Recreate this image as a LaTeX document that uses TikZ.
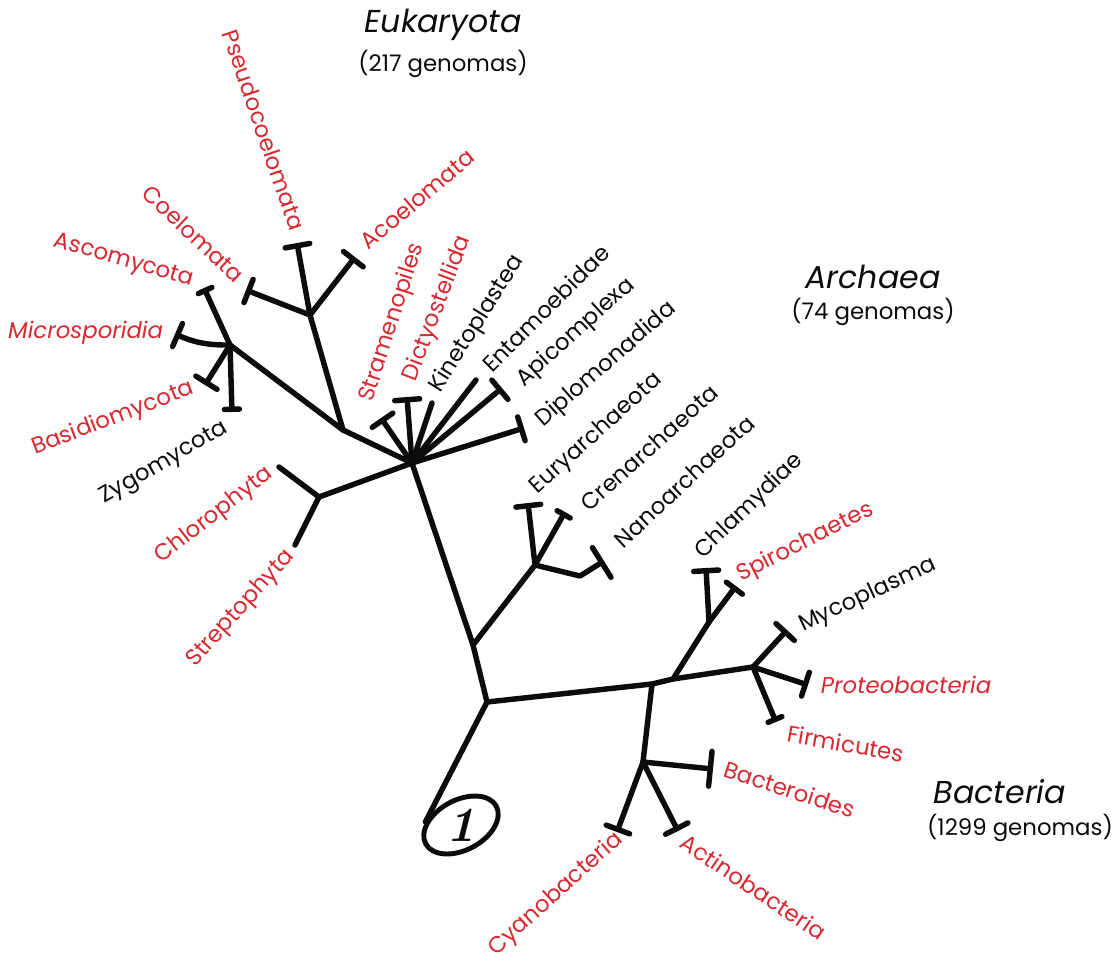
\documentclass[tikz,border=0pt]{standalone}
\usepackage{fontspec}
\setsansfont{Poppins}
\usetikzlibrary{arrows.meta, positioning, shapes.geometric}
\definecolor{TaxonRed}{RGB}{216,40,48}
\definecolor{InkBlack}{RGB}{12,12,12}

\begin{document}
\begin{tikzpicture}[
    x=0.02cm, y=-0.02cm,
    font=\sffamily,
    branch/.style={line width=3.1pt, InkBlack, line cap=round, line join=round},
    capped/.style={branch, -{Bar[width=#1, line width=3.1pt, round]}},
    capped/.default=5mm,
    taxon/.style={font=\sffamily\fontsize{13}{15}\selectfont, text=InkBlack, inner sep=1.5pt},
    redtaxon/.style={taxon, text=TaxonRed},
    realm/.style={font=\sffamily\itshape\fontsize{18}{21}\selectfont, text=InkBlack, inner sep=1pt},
    genomes/.style={font=\sffamily\fontsize{13}{15}\selectfont, text=InkBlack, inner sep=1pt},
]
\useasboundingbox (0,0) rectangle (1112,964);

% --- nodos internos ---
\coordinate (rootsplit) at (487,702);
\coordinate (archsplit) at (473,645);
\coordinate (euk) at (412,463);
\coordinate (arch) at (535,565);
\coordinate (archbend) at (580,576);
\coordinate (plants) at (319,497);
\coordinate (opis) at (343,430);
\coordinate (animals) at (310,315);
\coordinate (fungi) at (230,345);
\coordinate (bsplit) at (652,684);
\coordinate (bsplitup) at (673,679);
\coordinate (proteo) at (753,667);
\coordinate (spiro) at (709,622);
\coordinate (bacter) at (643,762);

% --- puntas de hojas ---
\coordinate (tPseudo) at (297,243);
\coordinate (tAcoel) at (355,257);
\coordinate (tCoel) at (246,290);
\coordinate (tAsco) at (204,288);
\coordinate (tMicro) at (175,334);
\coordinate (tBasid) at (205,385);
\coordinate (tZygo) at (232,412);
\coordinate (tChloro) at (279,467);
\coordinate (tStrep) at (295,545);
\coordinate (tStram) at (381,418);
\coordinate (tDicty) at (407,397);
\coordinate (tKinet) at (432,403);
\coordinate (tEntam) at (476,380);
\coordinate (tApico) at (502,388);
\coordinate (tDiplo) at (524,428);
\coordinate (tEury) at (528,503);
\coordinate (tCren) at (565,512);
\coordinate (tNano) at (604,561);
\coordinate (tChlam) at (706,568);
\coordinate (tSpiro) at (736,586);
\coordinate (tMyco) at (787,630);
\coordinate (tProteo) at (808,685);
\coordinate (tFirmi) at (776,722);
\coordinate (tBacte) at (713,769);
\coordinate (tCyano) at (617,832);
\coordinate (tActino) at (678,831);

% --- raiz ---
\node[draw=InkBlack, line width=2.8pt, ellipse, rotate=28, minimum width=1.6cm,
      minimum height=1cm, inner sep=0pt] (root) at (461,825) {};
\node[font=\rmfamily\bfseries\itshape\fontsize{28}{28}\selectfont, text=InkBlack] (one) at (root.center) {1};

% --- ramas ---
\draw[branch] (root.north west) -- (rootsplit) -- (archsplit) -- (euk);
\draw[branch] (archsplit) -- (arch);
\draw[branch] (euk) -- (plants);
\draw[branch] (euk) -- (opis) -- (fungi);
\draw[branch] (opis) -- (animals);
\draw[branch] (rootsplit) -- (bsplit) -- (bsplitup) -- (proteo);
\draw[branch] (bsplit) -- (bacter);
\draw[branch] (bsplitup) -- (spiro);

\draw[capped] (animals) -- (tPseudo);
\draw[capped] (animals) -- (tAcoel);
\draw[capped] (animals) -- (tCoel);
\draw[capped=3mm] (fungi) -- (tAsco);
\draw[capped] (fungi) to[bend left=12] (tMicro);
\draw[capped] (fungi) -- (tBasid);
\draw[capped=3mm] (fungi) -- (tZygo);
\draw[branch] (plants) -- (tChloro);
\draw[branch] (plants) -- (tStrep);
\draw[capped] (euk) -- (tStram);
\draw[capped] (euk) -- (tDicty);
\draw[branch] (euk) -- (tKinet);
\draw[branch] (euk) -- (tEntam);
\draw[capped] (euk) -- (tApico);
\draw[capped] (euk) -- (tDiplo);
\draw[capped] (arch) -- (tEury);
\draw[capped=3mm] (arch) -- (tCren);
\draw[capped=7mm] (arch) -- (archbend) -- (tNano);
\draw[capped] (spiro) -- (tChlam);
\draw[capped=4mm] (spiro) -- (tSpiro);
\draw[capped] (proteo) -- (tMyco);
\draw[capped] (proteo) -- (tProteo);
\draw[capped=3mm] (proteo) -- (tFirmi);
\draw[capped=7mm] (bacter) -- (tBacte);
\draw[capped] (bacter) -- (tCyano);
\draw[capped] (bacter) -- (tActino);

% --- etiquetas ---
\node[redtaxon, rotate=-71, anchor=east] (lPseudo) at (299,232) {Pseudocoelomata};
\node[redtaxon, rotate=-43, anchor=east] (lCoel) at (243,280) {Coelomata};
\node[redtaxon, rotate=-16, anchor=east] (lAsco) at (196,282) {Ascomycota};
\node[redtaxon, anchor=east, font=\sffamily\itshape\fontsize{13}{15}\selectfont] (lMicro) at (166,333) {Microsporidia};
\node[redtaxon, rotate=21, anchor=east] (lBasid) at (196,387) {Basidiomycota};
\node[taxon, rotate=30, anchor=east] (lZygo) at (229,426) {Zygomycota};
\node[redtaxon, rotate=38, anchor=east] (lChloro) at (273,470) {Chlorophyta};
\node[redtaxon, rotate=48, anchor=east] (lStrep) at (293,551) {Streptophyta};
\node[redtaxon, rotate=40, anchor=west] (lAcoel) at (361,246) {Acoelomata};
\node[redtaxon, rotate=72, anchor=west] (lStram) at (366,404) {Stramenopiles};
\node[redtaxon, rotate=69, anchor=west] (lDicty) at (409,383) {Dictyostellida};
\node[taxon, rotate=58, anchor=west] (lKinet) at (434,393) {Kinetoplastea};
\node[taxon, rotate=45, anchor=west] (lEntam) at (484,370) {Entamoebidae};
\node[taxon, rotate=42, anchor=west] (lApico) at (518,385) {Apicomplexa};
\node[taxon, rotate=41, anchor=west] (lDiplo) at (537,425) {Diplomonadida};
\node[taxon, rotate=42, anchor=west] (lEury) at (532,492) {Euryarchaeota};
\node[taxon, rotate=42, anchor=west] (lCren) at (582,508) {Crenarchaeota};
\node[taxon, rotate=43, anchor=west] (lNano) at (616,545) {Nanoarchaeota};
\node[taxon, rotate=44, anchor=west] (lChlam) at (697,557) {Chlamydiae};
\node[redtaxon, rotate=27, anchor=west] (lSpiro) at (736,578) {Spirochaetes};
\node[taxon, rotate=25, anchor=west] (lMyco) at (798,628) {Mycoplasma};
\node[redtaxon, anchor=west, font=\sffamily\itshape\fontsize{13}{15}\selectfont] (lProteo) at (818,685) {Proteobacteria};
\node[redtaxon, rotate=-10, anchor=west] (lFirmi) at (785,733) {Firmicutes};
\node[redtaxon, rotate=-18, anchor=west] (lBacte) at (722,767) {Bacteroides};
\node[redtaxon, rotate=42, anchor=east, inner sep=0.5pt] (lCyano) at (621,836) {Cyanobacteria};
\node[redtaxon, rotate=-34, anchor=west] (lActino) at (681,838) {Actinobacteria};

% --- dominios ---
\node[realm] (eukaryota) at (443,25) {Eukaryota};
\node[genomes, below=3pt of eukaryota] (eukgen) {(217 genomas)};
\node[realm] (archaea) at (873,277) {Archaea};
\node[genomes, below=3pt of archaea] (archgen) {(74 genomas)};
\node[realm] (bacteria) at (1000,792) {Bacteria};
\node[genomes, below=3pt of bacteria, xshift=0.4cm] (bactgen) {(1299 genomas)};

\end{tikzpicture}
\end{document}
